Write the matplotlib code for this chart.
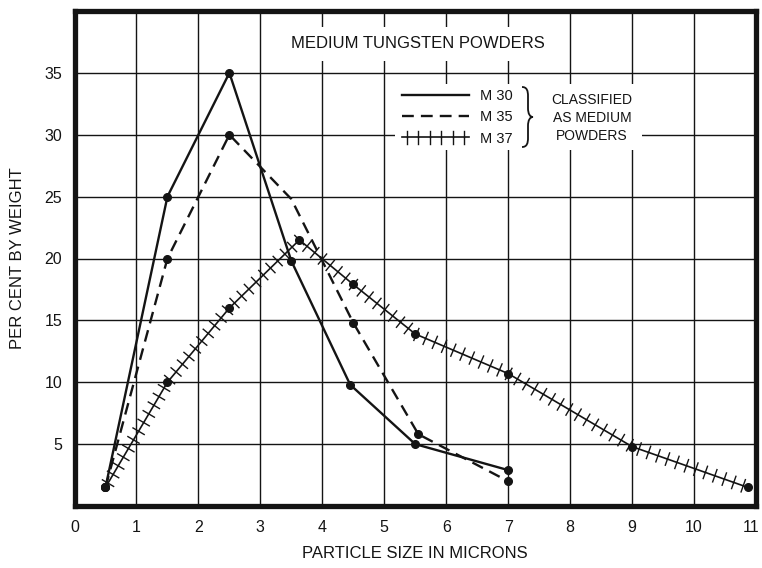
import matplotlib
matplotlib.use('Agg')
import matplotlib.pyplot as plt
from matplotlib import patheffects as pe
from matplotlib import transforms as mtrans
from matplotlib.path import Path
from matplotlib.patches import PathPatch, Rectangle

plt.rcParams['font.family'] = ['Liberation Sans', 'DejaVu Sans']

# ---- data ----
m30_x = [0.5, 1.5, 2.5, 3.5, 4.45, 5.5, 7.0]
m30_y = [1.5, 25, 35, 19.8, 9.8, 5.0, 2.9]
m35_x = [0.5, 1.5, 2.5, 3.5, 4.5, 5.55, 7.0]
m35_y = [1.5, 20, 30, 24.8, 14.8, 5.8, 2.0]
m37_x = [0.5, 1.5, 2.5, 3.63, 4.5, 5.5, 7.0, 9.0, 10.87]
m37_y = [1.5, 10, 16, 21.5, 17.9, 13.9, 10.7, 4.8, 1.5]
x_ticks = list(range(0, 12))
y_ticks = [5, 10, 15, 20, 25, 30, 35]
labels = ["M 30", "M 35", "M 37"]

INK = '#141414'
W, H = 762, 568
AX_L, AX_R, AX_T, AX_B = 74.5, 756, 11, 506

fig = plt.figure(figsize=(W / 100, H / 100), dpi=100)
ax = fig.add_axes([AX_L / W, 1 - AX_B / H, (AX_R - AX_L) / W, (AX_B - AX_T) / H])


def px(x, y):
    return ((x - AX_L) / (AX_R - AX_L), (AX_B - y) / (AX_B - AX_T))


ax.set_xlim(0, 11)
ax.set_ylim(0, 40)
ax.set_xticks(x_ticks)
ax.set_yticks(y_ticks)
ax.set_axisbelow(True)
ax.grid(True, color=INK, linewidth=1.0)
ax.tick_params(length=0, labelsize=11.5, colors=INK)
ax.tick_params(axis='x', pad=10)
ax.tick_params(axis='y', pad=9)
for s in ax.spines.values():
    s.set_linewidth(3.8)
    s.set_color(INK)

# nudge the last x label so it stays inside the canvas
last = ax.get_xticklabels()[-1]
last.set_transform(last.get_transform() +
                   mtrans.ScaledTranslation(-5 / 100, 0, fig.dpi_scale_trans))

ax.set_xlabel('PARTICLE SIZE IN MICRONS', fontsize=12, color=INK, labelpad=8)
ax.set_ylabel('PER CENT BY WEIGHT', fontsize=12, color=INK, labelpad=14)

# lines
l30, = ax.plot(m30_x, m30_y, color=INK, lw=1.7, marker='o', ms=5.5, zorder=3)
l35, = ax.plot(m35_x, m35_y, color=INK, lw=1.7, ls=(0, (5, 3)), marker='o', ms=5.5,
               markevery=[0, 1, 2, 4, 5, 6], zorder=3)
ticks = [pe.withTickedStroke(spacing=7.2, angle=90, length=0.65, linewidth=1.0),
         pe.TickedStroke(spacing=7.2, angle=-90, length=0.65, linewidth=1.0)]
l37, = ax.plot(m37_x, m37_y, color=INK, lw=1.2, zorder=3, path_effects=ticks)
ax.plot(m37_x, m37_y, ls='none', color=INK, marker='o', ms=5.5, zorder=3.5)

# title with white background
tx, ty = px(418, 44)
ax.text(tx, ty, 'MEDIUM TUNGSTEN POWDERS', transform=ax.transAxes, ha='center',
        va='center', fontsize=12, color=INK, zorder=2,
        bbox=dict(facecolor='white', edgecolor='none', pad=7))

# legend area
x0, y0 = px(395, 150)
x1, y1 = px(642, 84)
ax.add_patch(Rectangle((x0, y0), x1 - x0, y1 - y0, transform=ax.transAxes,
                       facecolor='white', edgecolor='none', zorder=1.5))
leg = ax.legend([l30, l35, l37], labels, loc='upper left',
                bbox_to_anchor=px(402, 89), bbox_transform=ax.transAxes,
                frameon=False, fontsize=10.5, handlelength=4.6, handletextpad=0.75,
                labelspacing=0.5, borderpad=0, borderaxespad=0)
for h in leg.legend_handles:
    h.set_marker('')
for t in leg.get_texts():
    t.set_color(INK)

# brace
bv = [(522, 87), (527, 87), (528, 91), (528, 96),
      (528, 108),
      (528, 114), (530, 117), (533, 117),
      (530, 117), (528, 120), (528, 126),
      (528, 138),
      (528, 143), (527, 147), (522, 147)]
bc = [Path.MOVETO, Path.CURVE4, Path.CURVE4, Path.CURVE4, Path.LINETO,
      Path.CURVE4, Path.CURVE4, Path.CURVE4,
      Path.CURVE4, Path.CURVE4, Path.CURVE4, Path.LINETO,
      Path.CURVE4, Path.CURVE4, Path.CURVE4]
ax.add_patch(PathPatch(Path([px(*v) for v in bv], bc), transform=ax.transAxes,
                       facecolor='none', edgecolor=INK, lw=1.3, zorder=3))

cx, cy = px(592, 118)
ax.text(cx, cy, 'CLASSIFIED\nAS MEDIUM\nPOWDERS', transform=ax.transAxes,
        ha='center', va='center', fontsize=10, color=INK, linespacing=1.35, zorder=3)

fig.savefig('out.png', dpi=100)
